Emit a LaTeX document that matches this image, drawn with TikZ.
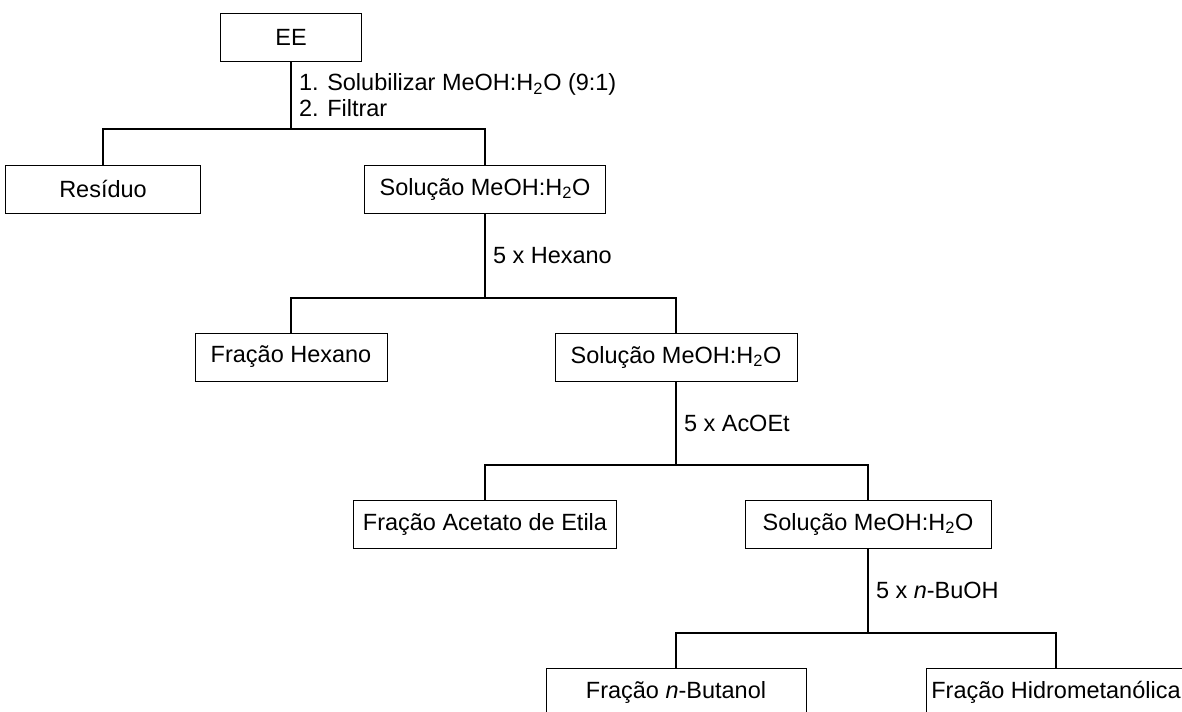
\documentclass[tikz,border=0pt]{standalone}
\usepackage{fontspec}
\setmainfont{Liberation Sans}
\usepackage{tikz}
\usetikzlibrary{calc}

\begin{document}
\begin{tikzpicture}[
	caixa/.style={draw, line width=0.7pt, minimum height=1.2cm, inner sep=0pt},
	liga/.style={line width=1.4pt},
	passo/.style={right, inner xsep=5pt, align=left},
	every node/.style={font=\fontsize{16.7}{18.5}\selectfont}]
	
	\clip (0,0) rectangle (29.55,-17.775);
	
	\node[caixa, minimum width=3.525cm] (ee) at (7.275,-0.925) {EE};
	
	\node[caixa, minimum width=4.875cm] (res) at (2.575,-4.725) {Resíduo};
	\node[caixa, minimum width=6.025cm] (sol1) at (12.125,-4.725) {Solução MeOH:H\textsubscript{2}O};
	
	\node[caixa, minimum width=4.8cm] (fhex) at (7.275,-8.925) {Fração Hexano};
	\node[caixa, minimum width=6.05cm] (sol2) at (16.9,-8.925) {Solução MeOH:H\textsubscript{2}O};
	
	\node[caixa, minimum width=6.575cm] (facet) at (12.125,-13.1) {Fração Acetato de Etila};
	\node[caixa, minimum width=6.15cm] (sol3) at (21.7,-13.1) {Solução MeOH:H\textsubscript{2}O};
	
	\node[caixa, minimum width=6.5cm] (fbut) at (16.9,-17.3) {Fração \textit{n}-Butanol};
	\node[caixa, minimum width=6.5cm] (fhid) at (26.4,-17.3) {Fração Hidrometanólica};
	
	% pontos de ramificacao
	\coordinate (b1) at (7.275,-3.225);
	\coordinate (b2) at (12.125,-7.45);
	\coordinate (b3) at (16.9,-11.625);
	\coordinate (b4) at (21.7,-15.825);
	
	\draw[liga] (ee.south) -- (b1) node[passo, midway] (p1) {1. Solubilizar MeOH:H\textsubscript{2}O (9:1)\\2. Filtrar};
	\draw[liga] (res.north) |- (b1) -| (sol1.north);
	
	\draw[liga] (sol1.south) -- (b2) node[passo, midway] (p2) {5 x Hexano};
	\draw[liga] (fhex.north) |- (b2) -| (sol2.north);
	
	\draw[liga] (sol2.south) -- (b3) node[passo, midway] (p3) {5 x AcOEt};
	\draw[liga] (facet.north) |- (b3) -| (sol3.north);
	
	\draw[liga] (sol3.south) -- (b4) node[passo, midway] (p4) {5 x \textit{n}-BuOH};
	\draw[liga] (fbut.north) |- (b4) -| (fhid.north);
	
\end{tikzpicture}
\end{document}
